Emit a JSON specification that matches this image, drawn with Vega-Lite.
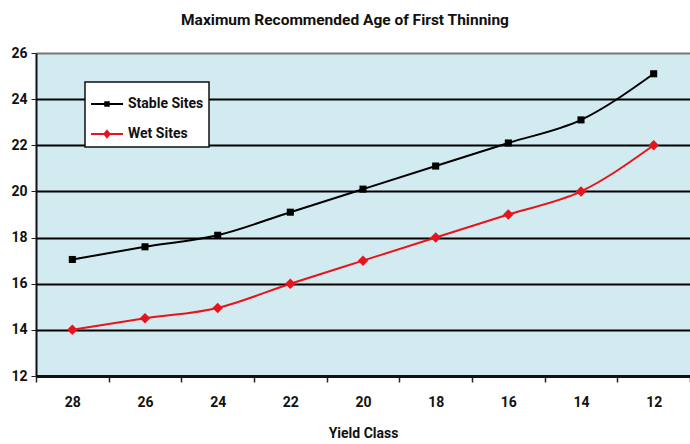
{
  "$schema": "https://vega.github.io/schema/vega-lite/v6.json",
  "width": 654,
  "height": 323,
  "autosize": "none",
  "padding": {"left": 36, "top": 53, "right": 0, "bottom": 68},
  "background": "white",
  "title": {
    "text": "Maximum Recommended Age of First Thinning",
    "font": "Roboto, sans-serif",
    "fontSize": 15.5,
    "fontWeight": "bold",
    "color": "#111",
    "anchor": "middle",
    "dx": -18,
    "offset": 18
  },
  "config": {
    "view": {"fill": "#d2ebf1", "stroke": null},
    "axis": {
      "labelFont": "Roboto, sans-serif",
      "labelFontWeight": "bold",
      "labelFontSize": 14,
      "labelColor": "#111",
      "titleFont": "Roboto, sans-serif",
      "titleFontWeight": "bold",
      "titleFontSize": 14,
      "titleColor": "#111"
    }
  },
  "data": {
    "values": [
      {"YieldClass": 28, "Series": "Stable Sites", "Age": 17.05},
      {"YieldClass": 26, "Series": "Stable Sites", "Age": 17.6},
      {"YieldClass": 24, "Series": "Stable Sites", "Age": 18.1},
      {"YieldClass": 22, "Series": "Stable Sites", "Age": 19.1},
      {"YieldClass": 20, "Series": "Stable Sites", "Age": 20.1},
      {"YieldClass": 18, "Series": "Stable Sites", "Age": 21.1},
      {"YieldClass": 16, "Series": "Stable Sites", "Age": 22.1},
      {"YieldClass": 14, "Series": "Stable Sites", "Age": 23.1},
      {"YieldClass": 12, "Series": "Stable Sites", "Age": 25.1},
      {"YieldClass": 28, "Series": "Wet Sites", "Age": 14},
      {"YieldClass": 26, "Series": "Wet Sites", "Age": 14.5},
      {"YieldClass": 24, "Series": "Wet Sites", "Age": 14.95},
      {"YieldClass": 22, "Series": "Wet Sites", "Age": 16},
      {"YieldClass": 20, "Series": "Wet Sites", "Age": 17},
      {"YieldClass": 18, "Series": "Wet Sites", "Age": 18},
      {"YieldClass": 16, "Series": "Wet Sites", "Age": 19},
      {"YieldClass": 14, "Series": "Wet Sites", "Age": 20},
      {"YieldClass": 12, "Series": "Wet Sites", "Age": 22}
    ]
  },
  "encoding": {
    "x": {
      "field": "YieldClass",
      "type": "ordinal",
      "sort": "descending",
      "scale": {"type": "band", "paddingInner": 0, "paddingOuter": 0},
      "axis": {
        "title": "Yield Class",
        "titlePadding": 17,
        "labelAngle": 0,
        "labelPadding": 13,
        "tickBand": "extent",
        "tickSize": 6,
        "tickColor": "#222",
        "tickWidth": 1.5,
        "domainColor": "#111",
        "domainWidth": 3,
        "grid": false
      }
    },
    "y": {
      "field": "Age",
      "type": "quantitative",
      "scale": {"domain": [12, 26], "nice": false, "zero": false},
      "axis": {
        "title": null,
        "values": [12, 14, 16, 18, 20, 22, 24, 26],
        "tickSize": 5,
        "tickColor": "#222",
        "labelPadding": 4,
        "domainColor": "#111",
        "domainWidth": 2,
        "grid": true,
        "gridColor": {"condition": {"test": "datum.value == 26", "value": "#777"}, "value": "#000"},
        "gridWidth": 2,
        "gridOpacity": 1
      }
    },
    "color": {
      "field": "Series",
      "type": "nominal",
      "scale": {"domain": ["Stable Sites", "Wet Sites"], "range": ["#000000", "#e8141c"]}
    }
  },
  "layer": [
    {
      "mark": {"type": "line", "interpolate": "monotone", "strokeWidth": 2},
      "encoding": {
        "color": {
          "field": "Series",
          "type": "nominal",
          "legend": {
            "title": null,
            "orient": "none",
            "legendX": 49,
            "legendY": 29,
            "direction": "vertical",
            "fillColor": "white",
            "strokeColor": "#111",
            "padding": 5,
            "rowPadding": 6,
            "symbolSize": 1024,
            "symbolOffset": 0,
            "labelFont": "Roboto, sans-serif",
            "labelFontWeight": "bold",
            "labelFontSize": 14,
            "labelColor": "#111",
            "labelOffset": 4,
            "labelLimit": 200,
            "encode": {
              "legend": {"update": {"strokeWidth": {"value": 1.5}}},
              "symbols": {
                "update": {
                  "shape": {"signal": "datum.value === 'Stable Sites' ? 'M-1,0H1M-0.11,-0.11H0.11V0.11H-0.11Z' : 'M-1,0H1M0,-0.2L0.16,0L0,0.2L-0.16,0Z'"},
                  "fill": {"scale": "color", "field": "value"},
                  "stroke": {"scale": "color", "field": "value"},
                  "strokeWidth": {"value": 2},
                  "opacity": {"value": 1}
                }
              }
            }
          }
        }
      }
    },
    {
      "transform": [{"filter": "datum.Series === 'Stable Sites'"}],
      "mark": {"type": "point", "shape": "square", "filled": true, "size": 50, "opacity": 1},
      "encoding": {"color": {"field": "Series", "type": "nominal", "legend": null}}
    },
    {
      "transform": [{"filter": "datum.Series === 'Wet Sites'"}],
      "mark": {"type": "point", "shape": "diamond", "filled": true, "size": 110, "opacity": 1},
      "encoding": {"color": {"field": "Series", "type": "nominal", "legend": null}}
    }
  ]
}
